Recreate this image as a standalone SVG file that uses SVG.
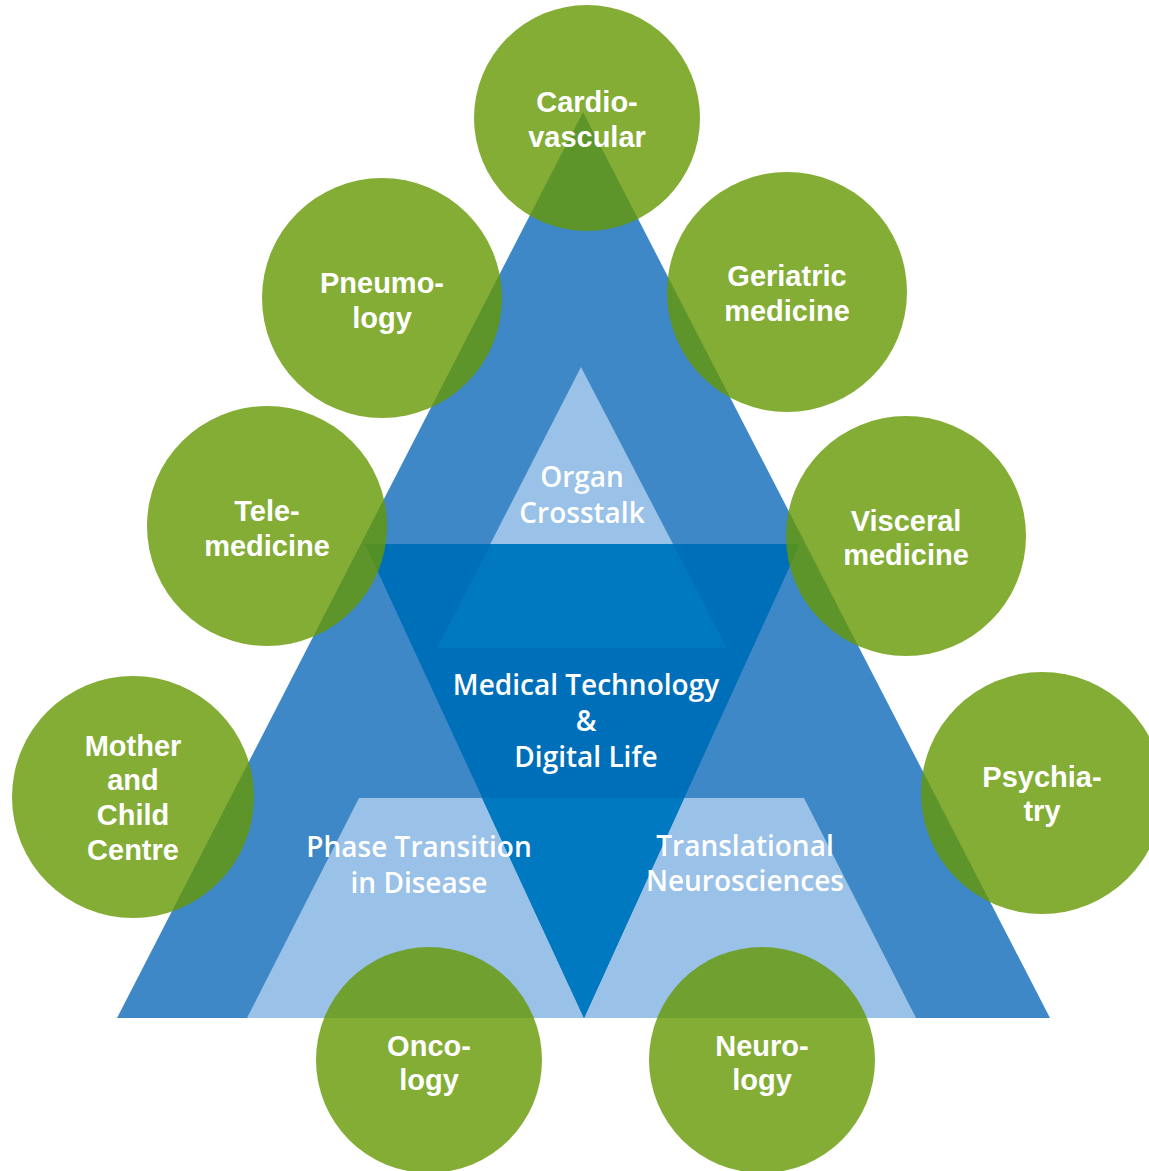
<svg xmlns="http://www.w3.org/2000/svg" width="1149" height="1171" viewBox="0 0 1149 1171">
<style>
.mid{fill:#3f88c7}
.light{fill:#9ac1e7}
.dark{fill:#006fb9}
.over{fill:#0079c1}
.circ{fill:#659802;fill-opacity:0.8}
.gt{font-family:"Liberation Sans",Arial,sans-serif;font-weight:bold;font-size:29px;fill:#ffffff;text-anchor:middle}
.bt{font-family:"Open Sans","Noto Sans",sans-serif;font-weight:600;font-size:28px;fill:#ffffff;text-anchor:middle}
</style>
<rect width="1149" height="1171" fill="#ffffff"/>
<g id="pyramid">
<polygon class="mid" points="583,112 1050,1018 117,1018"/>
<polygon class="light" points="581,367 727,648 437,648"/>
<polygon class="light" points="359,798 804,798 916,1018 247,1018"/>
<polygon class="dark" points="365,544 800,544 584,1018"/>
<polygon class="over" points="491,544 673,544 727,648 437,648"/>
<polygon class="over" points="482,798 684,798 584,1018"/>
</g>
<g id="organ-crosstalk"><text class="bt" x="582" y="487">Organ</text><text class="bt" x="582" y="523">Crosstalk</text></g>
<g id="medtech"><text class="bt" x="586" y="695">Medical Technology</text><text class="bt" x="586" y="731">&amp;</text><text class="bt" x="586" y="767">Digital Life</text></g>
<g id="phase-transition"><text class="bt" x="419" y="857">Phase Transition</text><text class="bt" x="419" y="893">in Disease</text></g>
<g id="translational"><text class="bt" x="745" y="856">Translational</text><text class="bt" x="745" y="891">Neurosciences</text></g>
<g id="cardio"><circle class="circ" cx="587" cy="118" r="113"/><text class="gt" x="587" y="112">Cardio-</text><text class="gt" x="587" y="147">vascular</text></g>
<g id="pneumo"><circle class="circ" cx="382" cy="298" r="120"/><text class="gt" x="382" y="293">Pneumo-</text><text class="gt" x="382" y="328">logy</text></g>
<g id="geriatric"><circle class="circ" cx="787" cy="292" r="120"/><text class="gt" x="787" y="286">Geriatric</text><text class="gt" x="787" y="321">medicine</text></g>
<g id="tele"><circle class="circ" cx="267" cy="526" r="120"/><text class="gt" x="267" y="521">Tele-</text><text class="gt" x="267" y="556">medicine</text></g>
<g id="visceral"><circle class="circ" cx="906" cy="536" r="120"/><text class="gt" x="906" y="531">Visceral</text><text class="gt" x="906" y="565">medicine</text></g>
<g id="mother"><circle class="circ" cx="133" cy="797" r="121"/><text class="gt" x="133" y="756">Mother</text><text class="gt" x="133" y="790">and</text><text class="gt" x="133" y="825">Child</text><text class="gt" x="133" y="860">Centre</text></g>
<g id="psychiatry"><circle class="circ" cx="1042" cy="793" r="121"/><text class="gt" x="1042" y="787">Psychia-</text><text class="gt" x="1042" y="821">try</text></g>
<g id="onco"><circle class="circ" cx="429" cy="1060" r="113"/><text class="gt" x="429" y="1056">Onco-</text><text class="gt" x="429" y="1090">logy</text></g>
<g id="neuro"><circle class="circ" cx="762" cy="1060" r="113"/><text class="gt" x="762" y="1056">Neuro-</text><text class="gt" x="762" y="1090">logy</text></g>
</svg>
